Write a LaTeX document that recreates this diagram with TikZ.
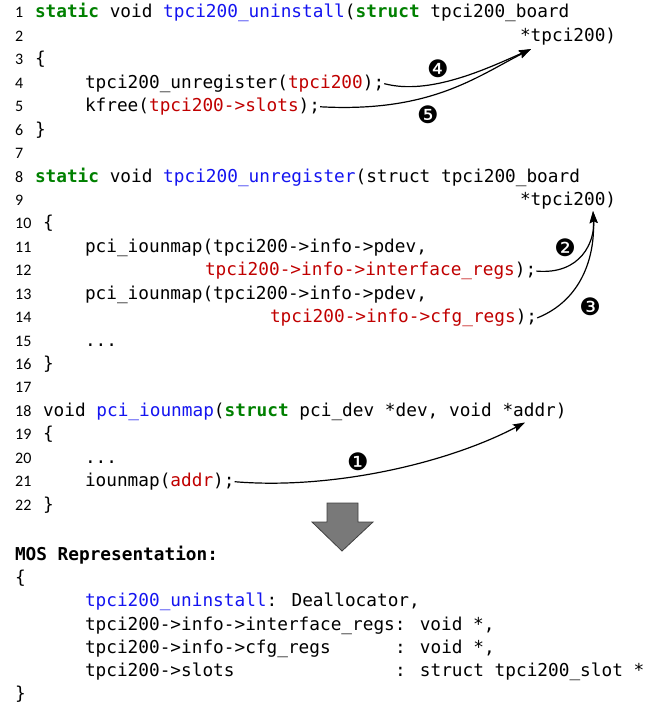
\documentclass[tikz,border=0pt]{standalone}
\usepackage{fontspec}
\newfontfamily\codefont{DejaVu Sans Mono}
\newfontfamily\numfont{Carlito}
\newfontfamily\dingfont{DejaVu Sans}
\usetikzlibrary{arrows.meta,calc}
\definecolor{kwgreen}{RGB}{0,128,0}
\definecolor{fnblue}{RGB}{20,20,240}
\definecolor{argred}{RGB}{192,0,0}
\newcommand\kw[1]{\textcolor{kwgreen}{\bfseries #1}}
\newcommand\fn[1]{\textcolor{fnblue}{#1}}
\newcommand\ar[1]{\textcolor{argred}{#1}}
\tikzset{
  code/.style={anchor=base west, inner sep=0pt, outer sep=0pt,
    font=\codefont\fontsize{17.75}{20}\selectfont},
  lnum/.style={anchor=base west, inner sep=0pt,
    font=\numfont\fontsize{16}{18}\selectfont},
  conn/.style={line width=1.2pt, -{Stealth[length=12pt,width=8pt,inset=2pt]}},
  badge/.style={inner sep=0pt, font=\dingfont\fontsize{24}{26}\selectfont},
}
\begin{document}
\begin{tikzpicture}[x=1pt, y=-1pt]
\useasboundingbox (0,0) rectangle (652,706);

% line numbers
\foreach \n in {1,...,22} {
  \node[lnum] (n\n) at (15, {18+(\n-1)*23.43}) {\n};
}

% function tpci200_uninstall
\node[code] (l1) at (35, 18.00) {\kw{static} void \fn{tpci200\_uninstall}(\kw{struct} tpci200\_board};
\node[code] (l2) at (520, 41.43) {*tpci200)};
\node[code] (l3) at (35, 64.86) {\{};
\node[code] (l4) at (85, 88.29) {tpci200\_unregister(\ar{tpci200});};
\node[code] (l5) at (85, 111.72) {kfree(\ar{tpci200->slots});};
\node[code] (l6) at (35, 135.15) {\}};

% function tpci200_unregister
\node[code] (l8) at (35, 182.01) {\kw{static} void \fn{tpci200\_unregister}(struct tpci200\_board};
\node[code] (l9) at (520, 205.44) {*tpci200)};
\node[code] (l10) at (43, 228.87) {\{};
\node[code] (l11) at (85, 252.30) {pci\_iounmap(tpci200->info->pdev,};
\node[code] (l12) at (205, 275.73) {\ar{tpci200->info->interface\_regs});};
\node[code] (l13) at (85, 299.16) {pci\_iounmap(tpci200->info->pdev,};
\node[code] (l14) at (270, 322.59) {\ar{tpci200->info->cfg\_regs});};
\node[code] (l15) at (85, 346.02) {...};
\node[code] (l16) at (43, 369.45) {\}};

% function pci_iounmap
\node[code] (l18) at (43, 416.31) {void \fn{pci\_iounmap}(\kw{struct} pci\_dev *dev, void *addr)};
\node[code] (l19) at (43, 439.74) {\{};
\node[code] (l20) at (85, 463.17) {...};
\node[code] (l21) at (85, 486.60) {iounmap(\ar{addr});};
\node[code] (l22) at (43, 510.03) {\}};

% arrow tips at the parameters
\coordinate (t45) at ($(l2.south west)+(11,4)$);
\coordinate (t23) at ($(l9.south west)+(73,2)$);
\coordinate (t1) at ($(l18.south west)+(482,2)$);

% data-flow connectors
\draw[conn] (l4.east) .. controls +(45,12) and +(-45,20) .. (t45);
\draw[conn] (l5.east) .. controls +(110,6) and +(-55,28) .. (t45);
\draw[conn] (l12.east) .. controls +(45,4) and +(2,30) .. (t23);
\draw[conn] (l14.east) .. controls +(45,-18) and +(2,45) .. (t23);
\draw[conn] (l21.east) .. controls +(95,8) and +(-80,42) .. (t1);

% step numbers
\node[badge] (b1) at (358, 462) {❶};
\node[badge] (b2) at (565, 248) {❷};
\node[badge] (b3) at (590, 307) {❸};
\node[badge] (b4) at (438, 69) {❹};
\node[badge] (b5) at (428, 115) {❺};

% block arrow down to the representation
\draw[fill=gray!95!black, draw=black!75, line width=0.8pt]
  (327,503) -- (358,503) -- (358,522) -- (373,522) -- (342,551)
  -- (312,522) -- (327,522) -- cycle;

% MOS representation
\node[code] (m0) at (15, 560.0) {\bfseries MOS Representation:};
\node[code] (m1) at (15, 583.3) {\{};
\node[code] (m2) at (85, 606.6) {\fn{tpci200\_uninstall}: Deallocator,};
\node[code] (m3) at (85, 630.0) {tpci200->info->interface\_regs: void *,};
\node[code] (m4) at (85, 653.3) {tpci200->info->cfg\_regs};
\node[code] (m4t) at (395, 653.3) {: void *,};
\node[code] (m5) at (85, 676.6) {tpci200->slots};
\node[code] (m5t) at (395, 676.6) {: struct tpci200\_slot *};
\node[code] (m6) at (15, 699.9) {\}};
\end{tikzpicture}
\end{document}
